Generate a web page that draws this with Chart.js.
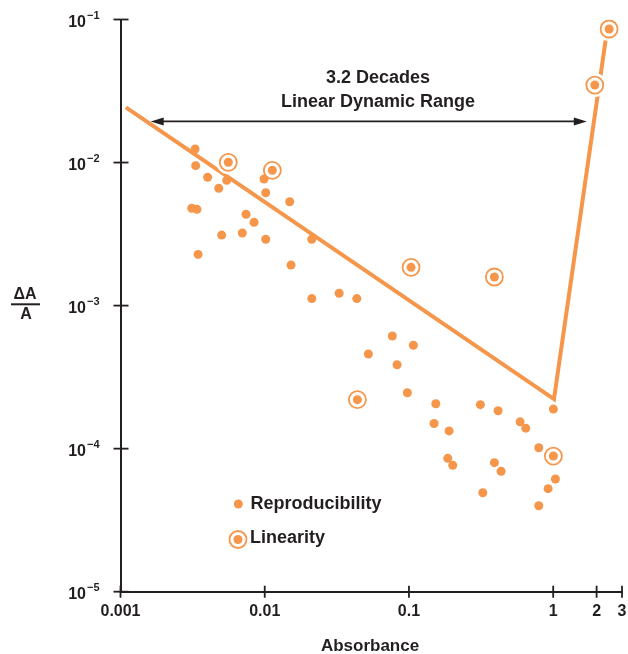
<!DOCTYPE html>
<html>
<head>
<meta charset="utf-8">
<script src="https://cdn.jsdelivr.net/npm/chart.js@4.4.1/dist/chart.umd.min.js"></script>
<style>
  body { margin: 0; background: #fff; }
  #wrap { width: 628px; height: 654px; }
</style>
</head>
<body>
<div id="wrap"><canvas id="chart" width="628" height="654"></canvas></div>
<script>
// Reproducibility points (absorbance, dA/A)
const repX = [0.00329, 0.00332, 0.00402, 0.0048, 0.00545, 0.00989, 0.01016, 0.0149, 0.00312, 0.00339,
              0.00742, 0.00843, 0.00503, 0.00699, 0.01016, 0.00345, 0.0212, 0.01522, 0.0212, 0.0328,
              0.0435, 0.0767, 0.1073, 0.0523, 0.0827, 0.0975, 0.1535, 0.3128, 0.4148, 1.003,
              0.1493, 0.1897, 0.5896, 0.6457, 0.7945, 0.1858, 0.2012, 0.3911, 0.4354, 1.036,
              0.922, 0.325, 0.7945];
const repY = [0.01244, 0.00951, 0.00789, 0.0066, 0.00751, 0.00767, 0.00615, 0.00532, 0.00479, 0.00471,
              0.00435, 0.00382, 0.00311, 0.00322, 0.00291, 0.00228, 0.00291, 0.00192, 0.00112, 0.00122,
              0.00112, 0.000613, 0.000528, 0.000459, 0.000386, 0.000246, 0.000206, 0.000203, 0.000184, 0.000189,
              0.00015, 0.000133, 0.000154, 0.000139, 0.0001015, 0.0000856, 0.0000765, 0.0000798, 0.0000695, 0.0000614,
              0.0000525, 0.0000492, 0.0000399];

// Linearity points
const linX = [0.00559, 0.01129, 0.1034, 0.3911, 0.0439, 1.003, 1.943, 2.442];
const linY = [0.01004, 0.00883, 0.001852, 0.001585, 0.00022, 0.0000888, 0.0348, 0.0858];

// Boundary line
const lineX = [0.00109, 1.013, 2.37];
const lineY = [0.0243, 0.000222, 0.0858];

// "Linear Dynamic Range" arrow
const arrowX = [0.00162, 1.71];
const arrowY = 0.0194;

const xTicks = [0.001, 0.01, 0.1, 1, 2, 3];
const xTickLabels = ['0.001', '0.01', '0.1', '1', '2', '3'];
const yTicks = [1e-5, 1e-4, 1e-3, 1e-2, 1e-1];
const yTickExps = ['\u22125', '\u22124', '\u22123', '\u22122', '\u22121'];

const orange = '#f5964b';
const ink = '#231f20';
const fontFamily = '"Liberation Sans", Arial, sans-serif';

function pts(xs, ys) {
    return xs.map((v, i) => ({ x: v, y: ys[i] }));
}

const decorations = {
    id: 'decorations',
    afterDatasetsDraw(chart) {
        const { ctx, scales: { x, y } } = chart;
        const ay = y.getPixelForValue(arrowY);
        const a0 = x.getPixelForValue(arrowX[0]);
        const a1 = x.getPixelForValue(arrowX[1]);
        ctx.save();
        ctx.strokeStyle = ink;
        ctx.fillStyle = ink;
        ctx.lineWidth = 1.6;
        ctx.beginPath();
        ctx.moveTo(a0 + 8, ay);
        ctx.lineTo(a1 - 8, ay);
        ctx.stroke();
        ctx.beginPath();
        ctx.moveTo(a0, ay); ctx.lineTo(a0 + 13, ay - 4); ctx.lineTo(a0 + 13, ay + 4);
        ctx.closePath(); ctx.fill();
        ctx.beginPath();
        ctx.moveTo(a1, ay); ctx.lineTo(a1 - 13, ay - 4); ctx.lineTo(a1 - 13, ay + 4);
        ctx.closePath(); ctx.fill();

        ctx.font = 'bold 18px ' + fontFamily;
        ctx.textAlign = 'center';
        ctx.textBaseline = 'middle';
        ctx.fillText('3.2 Decades', 378, 78);
        ctx.fillText('Linear Dynamic Range', 378, 102);
        ctx.restore();
    },
    afterDraw(chart) {
        const { ctx, chartArea, scales: { x, y } } = chart;
        ctx.save();
        ctx.strokeStyle = ink;
        ctx.fillStyle = ink;
        ctx.lineWidth = 1.8;

        // tick marks crossing the axes
        yTicks.forEach(v => {
            const py = y.getPixelForValue(v);
            ctx.beginPath();
            ctx.moveTo(chartArea.left - 7, py);
            ctx.lineTo(chartArea.left + 8, py);
            ctx.stroke();
        });
        xTicks.forEach(v => {
            const px = x.getPixelForValue(v);
            ctx.beginPath();
            ctx.moveTo(px, chartArea.bottom - 6);
            ctx.lineTo(px, chartArea.bottom + 6);
            ctx.stroke();
        });

        // y tick labels: 10 with superscript exponent
        ctx.textBaseline = 'alphabetic';
        yTicks.forEach((v, i) => {
            const py = y.getPixelForValue(v);
            ctx.font = 'bold 16px ' + fontFamily;
            ctx.textAlign = 'right';
            ctx.fillText('10', 86, py + 7);
            ctx.font = 'bold 11px ' + fontFamily;
            ctx.textAlign = 'left';
            ctx.fillText(yTickExps[i], 87, py - 1);
        });

        // y axis title as a fraction
        ctx.font = 'bold 16px ' + fontFamily;
        ctx.textAlign = 'center';
        ctx.textBaseline = 'middle';
        ctx.fillText('\u0394A', 25, 295);
        ctx.fillText('A', 26, 315);
        ctx.fillRect(11, 303.3, 29, 2);

        // x axis title
        ctx.font = 'bold 17px ' + fontFamily;
        ctx.fillText('Absorbance', 370, 646);

        // legend
        ctx.fillStyle = orange;
        ctx.beginPath(); ctx.arc(238.3, 504, 4.5, 0, Math.PI * 2); ctx.fill();
        ctx.beginPath(); ctx.arc(238, 539.5, 4.5, 0, Math.PI * 2); ctx.fill();
        ctx.strokeStyle = orange;
        ctx.lineWidth = 1.8;
        ctx.beginPath(); ctx.arc(238, 539.5, 8.5, 0, Math.PI * 2); ctx.stroke();
        ctx.fillStyle = ink;
        ctx.font = 'bold 18px ' + fontFamily;
        ctx.textAlign = 'left';
        ctx.fillText('Reproducibility', 250.5, 504);
        ctx.fillText('Linearity', 250, 538.5);
        ctx.restore();
    }
};

new Chart(document.getElementById('chart'), {
    type: 'scatter',
    data: {
        datasets: [
            { label: 'Linearity', data: pts(linX, linY), pointRadius: 4.5, pointBorderWidth: 0,
              pointBackgroundColor: orange },
            { label: 'Linearity ring', data: pts(linX, linY), pointRadius: 8.5, pointBorderWidth: 1.8,
              pointBorderColor: orange, pointBackgroundColor: '#fff' },
            { label: 'Reproducibility', data: pts(repX, repY), pointRadius: 4.5, pointBorderWidth: 0,
              pointBackgroundColor: orange },
            { label: 'halo', data: pts(linX, linY), pointRadius: 12, pointBorderWidth: 0,
              pointBackgroundColor: '#fff' },
            { label: 'Range limit', data: pts(lineX, lineY), showLine: true, pointRadius: 0,
              borderColor: orange, borderWidth: 4, borderJoinStyle: 'miter', tension: 0 }
        ]
    },
    options: {
        responsive: false,
        animation: false,
        events: [],
        layout: { autoPadding: false, padding: { top: 19.5, right: 6, left: 0, bottom: 0 } },
        plugins: { legend: { display: false }, tooltip: { enabled: false } },
        scales: {
            x: {
                type: 'logarithmic',
                min: 0.001,
                max: 3,
                bounds: 'data',
                afterBuildTicks: s => { s.ticks = xTicks.map(v => ({ value: v })); },
                afterFit: s => { s.height = 62.3; s.paddingLeft = 0; s.paddingRight = 0; },
                grid: { display: false, drawTicks: false },
                border: { display: true, color: ink, width: 2 },
                ticks: {
                    autoSkip: false,
                    maxRotation: 0,
                    padding: 10,
                    color: ink,
                    font: { family: fontFamily, size: 16, weight: 'bold' },
                    callback: (v, i) => xTickLabels[i]
                }
            },
            y: {
                type: 'logarithmic',
                min: 1e-5,
                max: 1e-1,
                bounds: 'data',
                afterBuildTicks: s => { s.ticks = yTicks.map(v => ({ value: v })); },
                afterFit: s => { s.width = 120.5; s.paddingTop = 0; s.paddingBottom = 0; },
                grid: { display: false, drawTicks: false },
                border: { display: true, color: ink, width: 2 },
                ticks: { display: false }
            }
        }
    },
    plugins: [decorations]
});
</script>
</body>
</html>
